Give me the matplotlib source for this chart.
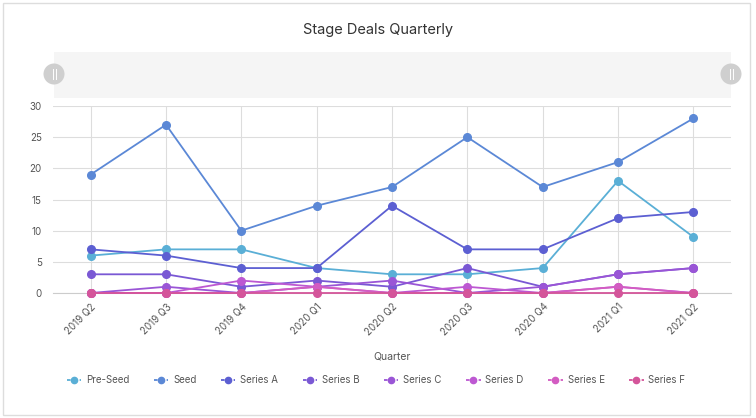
import matplotlib
matplotlib.use("Agg")
import matplotlib.pyplot as plt
from matplotlib.patches import Rectangle, Ellipse
from matplotlib.lines import Line2D

plt.rcParams['font.family'] = ['Inter', 'DejaVu Sans']

quarters = ["2019 Q2", "2019 Q3", "2019 Q4", "2020 Q1", "2020 Q2",
            "2020 Q3", "2020 Q4", "2021 Q1", "2021 Q2"]
pre_seed = [6, 7, 7, 4, 3, 3, 4, 18, 9]
seed = [19, 27, 10, 14, 17, 25, 17, 21, 28]
series_a = [7, 6, 4, 4, 14, 7, 7, 12, 13]
series_b = [3, 3, 1, 2, 1, 4, 1, 3, 4]
series_c = [0, 1, 0, 1, 2, 0, 1, 3, 4]
series_d = [0, 0, 2, 1, 0, 1, 0, 1, 0]
series_e = [0, 0, 0, 1, 0, 0, 0, 1, 0]
series_f = [0, 0, 0, 0, 0, 0, 0, 0, 0]

names = ["Pre-Seed", "Seed", "Series A", "Series B", "Series C",
         "Series D", "Series E", "Series F"]
values = [pre_seed, seed, series_a, series_b, series_c, series_d, series_e, series_f]
colors = ["#5aafd6", "#5b88d6", "#5c5fd2", "#7a58d4", "#9a55d6",
          "#bd58d2", "#d35cc2", "#d4559a"]

W, H = 756, 418
fig = plt.figure(figsize=(W / 100, H / 100), dpi=100)

# outer border
fig.patches.append(Rectangle((3 / W, 3 / H), 747 / W, 412 / H, transform=fig.transFigure,
                             fill=False, edgecolor="#dddddd", linewidth=1))

# zoom band
fig.patches.append(Rectangle((54 / W, (H - 98) / H), 677 / W, 46 / H, transform=fig.transFigure,
                             facecolor="#f5f5f5", edgecolor="none"))
for cx in (54, 731):
    fig.patches.append(Ellipse((cx / W, (H - 74) / H), 21 / W, 21 / H, transform=fig.transFigure,
                               facecolor="#cfcfcf", edgecolor="none"))
    for dx in (-1.5, 1.5):
        fig.lines.append(Line2D([(cx + dx) / W] * 2, [(H - 79) / H, (H - 69) / H],
                                transform=fig.transFigure, color="white", linewidth=0.7))

fig.text(378 / W, (H - 30) / H, "Stage Deals Quarterly", ha="center", va="center",
         fontsize=10.5, color="#333333")

ax = fig.add_axes([53 / W, (H - 293) / H, 678 / W, 187 / H])
x = list(range(len(quarters)))
for name, vals, c in zip(names, values, colors):
    ax.plot(x, vals, color=c, linewidth=1.3, marker="o", markersize=5.5,
            label=name, clip_on=False, zorder=3)

ax.set_xlim(-0.5, len(quarters) - 0.5)
ax.set_ylim(0, 30)
ax.set_yticks([0, 5, 10, 15, 20, 25, 30])
ax.set_xticks(x)
ax.set_xticklabels(quarters, rotation=45, ha="right", rotation_mode="anchor")
ax.grid(True, color="#dddddd", linewidth=0.8)
ax.set_axisbelow(True)
for s in ["top", "right", "left"]:
    ax.spines[s].set_visible(False)
ax.spines["bottom"].set_color("#cccccc")
ax.tick_params(axis="both", length=0, labelsize=7, labelcolor="#555555")
ax.tick_params(axis="x", pad=6)
ax.tick_params(axis="y", pad=8)
ax.set_xlabel("Quarter", fontsize=7.5, color="#555555", labelpad=10)

handles = [Line2D([0], [0], color=c, linestyle="--", linewidth=1.3, marker="o",
                  markersize=4.5, dashes=(2, 1.5)) for c in colors]
fig.legend(handles, names, loc="center", bbox_to_anchor=(376 / W, (H - 380) / H),
           ncol=8, frameon=False, fontsize=7, handlelength=1.5, handletextpad=0.5,
           columnspacing=2.5, labelcolor="#555555")

fig.savefig("out.png", dpi=100)
